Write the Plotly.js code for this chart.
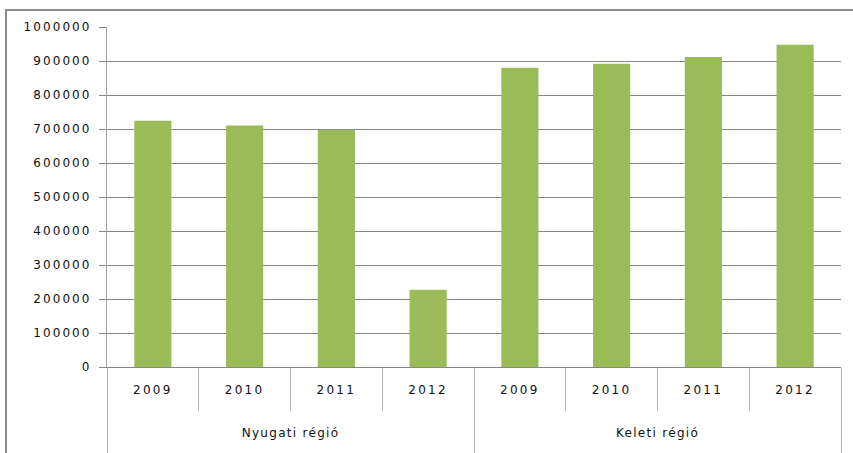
<!DOCTYPE html>
<html>
<head>
<meta charset="utf-8">
<script src="https://cdn.plot.ly/plotly-3.0.1.min.js"></script>
<style>
html,body{margin:0;padding:0;background:#fff;}
#chart{width:853px;height:453px;}
#chart svg text{letter-spacing:1.8px;}
#chart svg .ytick text{letter-spacing:2.1px;}
#chart svg .xtick text{letter-spacing:2.3px;}
#chart svg .x4tick text{letter-spacing:1.3px;}
</style>
</head>
<body>
<div id="chart"></div>
<script>
var regions = ["Nyugati régió","Nyugati régió","Nyugati régió","Nyugati régió","Keleti régió","Keleti régió","Keleti régió","Keleti régió"];
var years = ["2009","2010","2011","2012","2009","2010","2011","2012"];
var values = [724000, 710000, 698000, 227000, 880000, 892000, 912000, 948000];
var yTicks = [0,100000,200000,300000,400000,500000,600000,700000,800000,900000,1000000];

var nCat = years.length;
var xIdx = years.map(function (_, i) { return i; });
var yearBounds = [];
for (var i = 0; i <= nCat; i++) yearBounds.push(i - 0.5);
var groupBounds = [-0.5], groupNames = [regions[0]];
for (var j = 1; j < nCat; j++) if (regions[j] !== regions[j-1]) { groupBounds.push(j - 0.5); groupNames.push(regions[j]); }
groupBounds.push(nCat - 0.5);
var groupCenters = [];
for (var k = 0; k < groupNames.length; k++) groupCenters.push((groupBounds[k] + groupBounds[k+1]) / 2);

var trace = {
  type: "bar",
  x: xIdx,
  y: values,
  marker: {color: "#9BBB59", line: {width: 0}},
  width: 0.405,
  hoverinfo: "skip"
};
var t2 = {type: "scatter", x: [], y: [], xaxis: "x2", yaxis: "y", showlegend: false};
var t3 = {type: "scatter", x: [], y: [], xaxis: "x3", yaxis: "y", showlegend: false};
var t4 = {type: "scatter", x: [], y: [], xaxis: "x4", yaxis: "y", showlegend: false};

var tf = {family: "DejaVu Sans", size: 12, color: "#111111"};
var xr = [-0.5, nCat - 0.5];

var layout = {
  width: 853,
  height: 453,
  margin: {l: 107, r: 12, t: 27, b: 86},
  paper_bgcolor: "#ffffff",
  plot_bgcolor: "#ffffff",
  showlegend: false,
  font: tf,
  xaxis: {
    range: xr,
    tickvals: xIdx,
    ticktext: years,
    showgrid: false,
    zeroline: false,
    showline: true,
    linecolor: "#868686",
    linewidth: 1,
    ticks: "",
    ticklabelstandoff: 12,
    tickfont: tf
  },
  xaxis2: {
    overlaying: "x", anchor: "y", side: "bottom",
    range: xr,
    tickvals: yearBounds,
    showticklabels: false,
    ticks: "outside", ticklen: 43, tickcolor: "#b4b4b4", tickwidth: 1,
    showgrid: false, showline: false, zeroline: false
  },
  xaxis3: {
    overlaying: "x", anchor: "y", side: "bottom",
    range: xr,
    tickvals: groupBounds,
    showticklabels: false,
    ticks: "outside", ticklen: 90, tickcolor: "#b4b4b4", tickwidth: 1,
    showgrid: false, showline: false, zeroline: false
  },
  xaxis4: {
    overlaying: "x", anchor: "y", side: "bottom",
    range: xr,
    tickvals: groupCenters,
    ticktext: groupNames,
    ticks: "",
    ticklabelstandoff: 57,
    tickfont: tf,
    showgrid: false, showline: false, zeroline: false
  },
  yaxis: {
    range: [0, 1000000],
    tickvals: yTicks,
    ticktext: yTicks.map(String),
    showgrid: true,
    gridcolor: "#868686",
    gridwidth: 1,
    showline: true,
    linecolor: "#a0a0a0",
    linewidth: 1,
    ticks: "outside",
    ticklen: 7,
    tickcolor: "#868686",
    ticklabelstandoff: 5,
    zeroline: false,
    tickfont: tf
  },
  shapes: [{
    type: "rect", xref: "paper", yref: "paper",
    x0: -0.1376, x1: 1.2, y0: -0.3, y1: 1.05,
    line: {color: "#8c8c8c", width: 2},
    fillcolor: "rgba(0,0,0,0)",
    layer: "below"
  }]
};

Plotly.newPlot("chart", [trace, t2, t3, t4], layout, {displayModeBar: false, staticPlot: true});
</script>
</body>
</html>
